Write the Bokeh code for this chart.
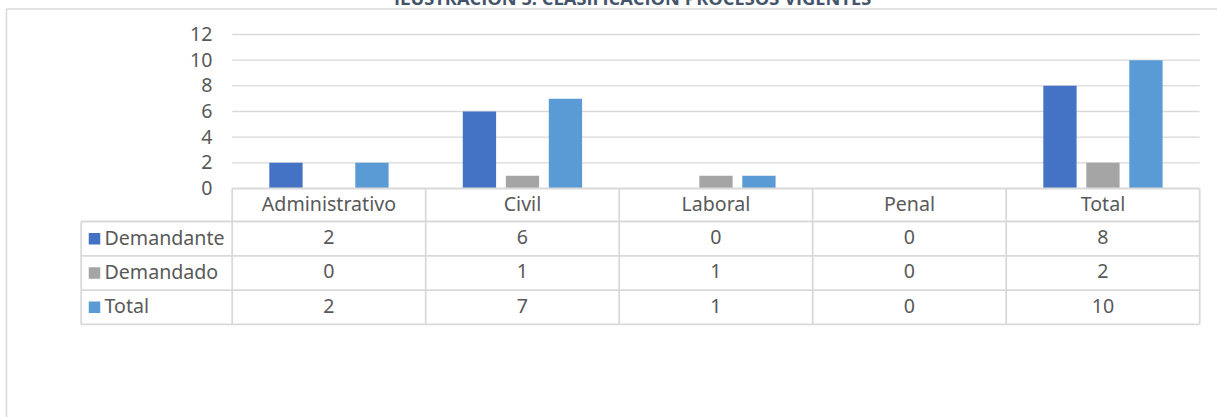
from bokeh.plotting import figure
from bokeh.models import Range1d, ColumnDataSource, Div
from bokeh.core.properties import value
from bokeh.transform import dodge
from bokeh.embed import file_html
from bokeh.resources import INLINE

# ---------------- data ----------------
title_text = "ILUSTRACIÓN 5. CLASIFICACIÓN PROCESOS VIGENTES"
categories = ["Administrativo", "Civil", "Laboral", "Penal", "Total"]
series_names = ["Demandante", "Demandado", "Total"]
demandante = [2, 6, 0, 0, 8]
demandado = [0, 1, 1, 0, 2]
total = [2, 7, 1, 0, 10]
y_ticks = [0, 2, 4, 6, 8, 10, 12]
colors = ["#4472C4", "#A5A5A5", "#5B9BD5"]

# ---------------- layout constants (pixels) ----------------
W, H = 1217, 417
PX_X = 193.5          # px per category
PX_Y = 12.833         # px per value unit
ORIGIN_X = 231.7      # px of category 0 start within figure
ORIGIN_Y = 188.0      # px of value 0 within figure (from top)
HDR_PX = 33.0
ROW_PX = 34.3
TXT_SHIFT = 1.5 / PX_Y   # small upward nudge of table texts
LEG_LEFT = (80.7 - ORIGIN_X) / PX_X

xs = -ORIGIN_X / PX_X
xe = (W - ORIGIN_X) / PX_X
ye = ORIGIN_Y / PX_Y
ys = -(H - ORIGIN_Y) / PX_Y
HDR = HDR_PX / PX_Y
ROW = ROW_PX / PX_Y

FONT = value("Noto Sans")
TXT = "#595959"
LINE = "#D9D9D9"
FS = "19.6px"

p = figure(width=W, height=H, x_range=Range1d(xs, xe), y_range=Range1d(ys, ye),
           output_backend="svg", toolbar_location=None, min_border=0,
           x_axis_location=None, y_axis_location=None)
p.grid.visible = False
p.outline_line_color = None
p.background_fill_color = "white"
p.border_fill_color = "white"

n = len(categories)
src = ColumnDataSource(dict(
    xc=[i + 0.5 for i in range(n)],
    cat=categories,
    s0=demandante, s1=demandado, s2=total,
))

# gridlines (above 0)
gy = [t for t in y_ticks if t > 0]
p.segment(x0=[0] * len(gy), x1=[n] * len(gy), y0=gy, y1=gy, line_color=LINE, line_width=1.3)

# y tick labels
p.text(x=[(212 - ORIGIN_X) / PX_X] * len(y_ticks), y=[t + 0.05 for t in y_ticks],
       text=[str(t) for t in y_ticks],
       text_font=FONT, text_font_size=FS, text_color=TXT,
       text_align="right", text_baseline="middle")

# bars
offs = [-43 / PX_X, 0, 43 / PX_X]
bw = 33.3 / PX_X
for k, col in enumerate(["s0", "s1", "s2"]):
    p.vbar(x=dodge("xc", offs[k], range=p.x_range), top=col, bottom=0, width=bw,
           source=src, fill_color=colors[k], line_color=None)

# table lines
bottom = -(HDR + 3 * ROW)
p.segment(x0=[0], x1=[n], y0=[0], y1=[0], line_color=LINE, line_width=1.8)
hy = [-(HDR + r * ROW) for r in range(4)]
p.segment(x0=[LEG_LEFT] * 4, x1=[n] * 4, y0=hy, y1=hy, line_color=LINE, line_width=1.8)
vx = list(range(n + 1))
p.segment(x0=vx, x1=vx, y0=[0] * len(vx), y1=[bottom] * len(vx), line_color=LINE, line_width=1.8)
p.segment(x0=[LEG_LEFT], x1=[LEG_LEFT], y0=[-HDR], y1=[bottom], line_color=LINE, line_width=1.8)

# header labels
p.text(x="xc", y=-HDR / 2 + TXT_SHIFT, text="cat", source=src, text_font=FONT, text_font_size=FS,
       text_color=TXT, text_align="center", text_baseline="middle")

# row legend + values
for r, (name, vals) in enumerate(zip(series_names, [demandante, demandado, total])):
    yc = -(HDR + r * ROW + ROW / 2)
    p.rect(x=[(94 - ORIGIN_X) / PX_X], y=[yc], width=11.5, height=11.5,
           width_units="screen", height_units="screen", fill_color=colors[r], line_color=None)
    p.text(x=[(104 - ORIGIN_X) / PX_X], y=[yc + TXT_SHIFT], text=[name], text_font=FONT,
           text_font_size=FS, text_color=TXT, text_align="left", text_baseline="middle")
    p.text(x=[i + 0.5 for i in range(n)], y=[yc + TXT_SHIFT] * n, text=[str(v) for v in vals],
           text_font=FONT, text_font_size=FS, text_color=TXT,
           text_align="center", text_baseline="middle")

# outer chart border (left and top visible)
bx = (6 - ORIGIN_X) / PX_X
p.segment(x0=[bx], x1=[bx], y0=[ye - 8.5 / PX_Y], y1=[ys], line_color=LINE, line_width=1.5)
p.segment(x0=[bx], x1=[xe], y0=[ye - 8.5 / PX_Y], y1=[ye - 8.5 / PX_Y], line_color=LINE, line_width=1.5)

title = Div(text=title_text, styles={
    "position": "absolute", "top": "-20px", "left": "389px",
    "font-family": "'Open Sans'", "font-weight": "bold", "font-size": "18.3px",
    "color": "#44546A", "white-space": "nowrap"})

open("out.html", "w").write(file_html((p, title), INLINE))
